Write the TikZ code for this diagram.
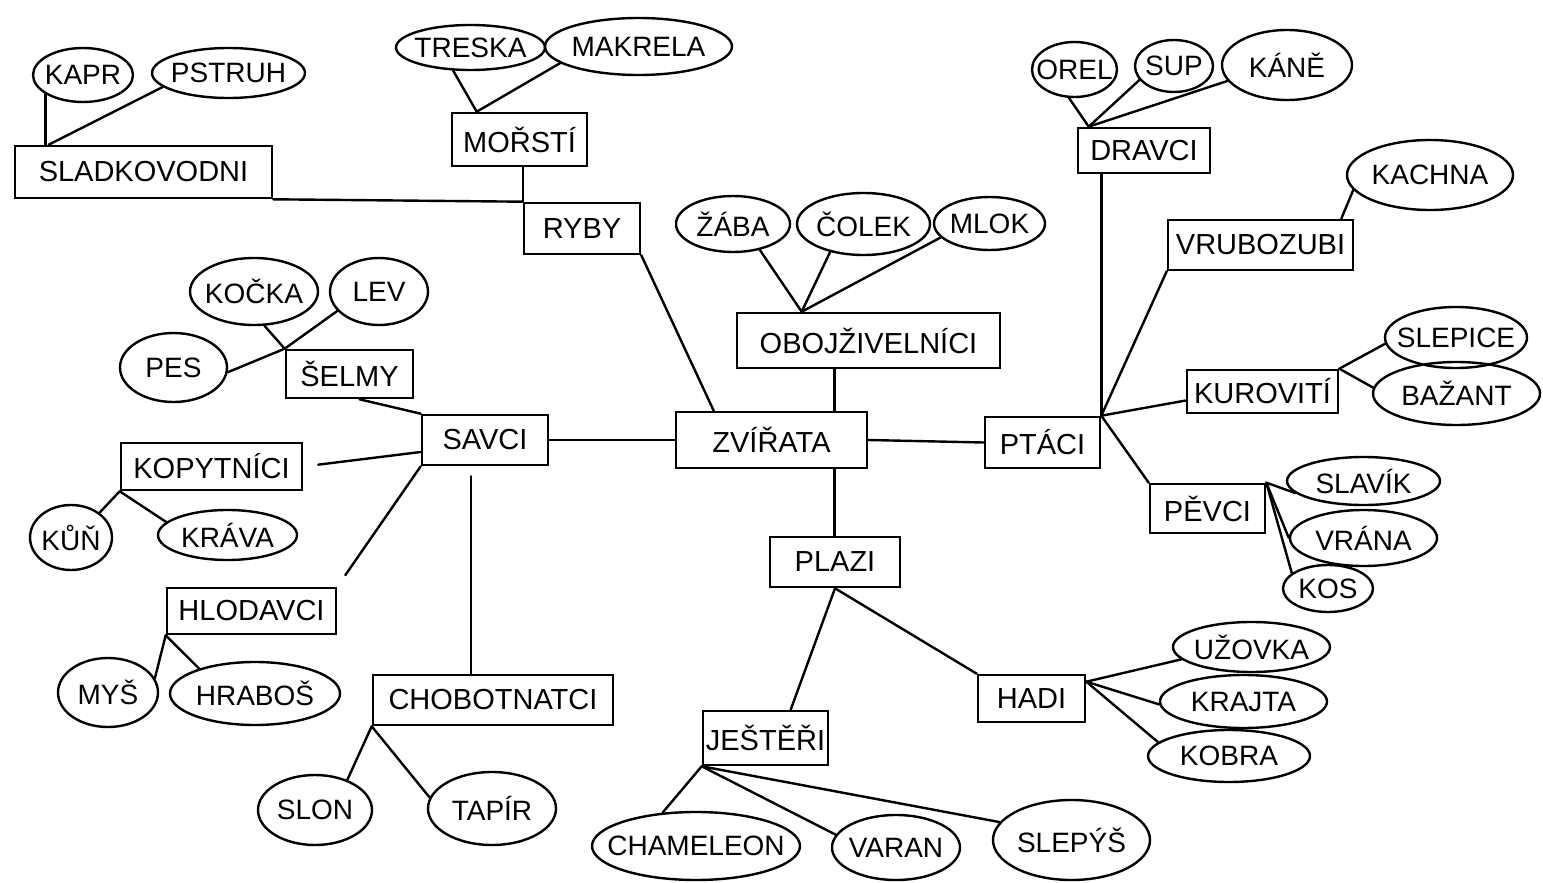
\documentclass[tikz,border=0pt]{standalone}
\usepackage{fontspec}
\setmainfont{Liberation Sans}
\usetikzlibrary{shapes.geometric}
\newcommand{\ovl}[1]{\makebox[0pt]{#1}}
\tikzset{
 box/.style={draw, rectangle, line width=2.6pt, inner sep=0pt, font=\fontsize{29}{32}\selectfont},
 oval/.style={draw, ellipse, line width=2.4pt, inner sep=0pt, font=\fontsize{28}{32}\selectfont},
 link/.style={line width=2.4pt, line cap=round},
}
\begin{document}
\begin{tikzpicture}[x=1pt,y=-1pt]
\fill[white] (0,0) rectangle (1543,883);
\useasboundingbox (0,0) rectangle (1543,883);

% boxes
\node[box, minimum width=257pt, minimum height=52pt] (sladk) at (143.5,172) {SLADKOVODNI};
\node[box, minimum width=135pt, minimum height=53pt] (morsti) at (519.5,139.5) {MOŘSTÍ};
\node[box, minimum width=116pt, minimum height=51pt] (ryby) at (582,228.5) {RYBY};
\node[box, minimum width=263pt, minimum height=55pt] (oboj) at (868.5,340.5) {OBOJŽIVELNÍCI};
\node[box, minimum width=191pt, minimum height=56pt] (zv) at (771.5,440) {ZVÍŘATA};
\node[box, minimum width=115pt, minimum height=51pt] (ptaci) at (1042.5,442.5) {PTÁCI};
\node[box, minimum width=132pt, minimum height=45pt] (dravci) at (1144,150.5) {DRAVCI};
\node[box, minimum width=185pt, minimum height=50pt] (vrub) at (1260.5,245) {VRUBOZUBI};
\node[box, minimum width=151pt, minimum height=43pt] (kurov) at (1262.5,391.5) {KUROVITÍ};
\node[box, minimum width=115pt, minimum height=49pt] (pevci) at (1207.5,508.5) {PĚVCI};
\node[box, minimum width=130pt, minimum height=50pt] (plazi) at (835,562) {PLAZI};
\node[box, minimum width=107pt, minimum height=47pt] (hadi) at (1031.5,698.5) {HADI};
\node[box, minimum width=125pt, minimum height=54pt] (jest) at (765.5,738) {JEŠTĚŘI};
\node[box, minimum width=126pt, minimum height=50pt] (savci) at (485,440) {SAVCI};
\node[box, minimum width=127pt, minimum height=48pt] (selmy) at (349.5,374) {ŠELMY};
\node[box, minimum width=181pt, minimum height=47pt] (kopyt) at (211.5,466.5) {KOPYTNÍCI};
\node[box, minimum width=169pt, minimum height=46pt] (hlod) at (251.5,611) {HLODAVCI};
\node[box, minimum width=240pt, minimum height=50pt] (chobot) at (493,700) {CHOBOTNATCI};

% ovals
\node[oval, minimum width=100pt, minimum height=54pt] (kapr) at (83,75) {\ovl{KAPR}};
\node[oval, minimum width=153pt, minimum height=50pt] (pstruh) at (228.5,73) {\ovl{PSTRUH}};
\node[oval, minimum width=149pt, minimum height=45pt] (treska) at (470.5,47.5) {\ovl{TRESKA}};
\node[oval, minimum width=187pt, minimum height=57pt] (makrela) at (638.5,46.5) {\ovl{MAKRELA}};
\node[oval, minimum width=114pt, minimum height=56pt] (zaba) at (733,224) {\ovl{ŽÁBA}};
\node[oval, minimum width=133pt, minimum height=62pt] (colek) at (863.5,224) {\ovl{ČOLEK}};
\node[oval, minimum width=111pt, minimum height=53pt] (mlok) at (989.5,223.5) {\ovl{MLOK}};
\node[oval, minimum width=85pt, minimum height=55pt] (orel) at (1074.5,69.5) {\ovl{OREL}};
\node[oval, minimum width=78pt, minimum height=52pt] (sup) at (1174,66) {\ovl{SUP}};
\node[oval, minimum width=130pt, minimum height=70pt] (kane) at (1287,65) {\ovl{KÁNĚ}};
\node[oval, minimum width=166pt, minimum height=70pt] (kachna) at (1430,175) {\ovl{KACHNA}};
\node[oval, minimum width=142pt, minimum height=61pt] (slepice) at (1456,337.5) {\ovl{SLEPICE}};
\node[oval, minimum width=167pt, minimum height=63pt] (bazant) at (1456.5,393.5) {\ovl{BAŽANT}};
\node[oval, minimum width=153pt, minimum height=48pt] (slavik) at (1363.5,481) {\ovl{SLAVÍK}};
\node[oval, minimum width=147pt, minimum height=56pt] (vrana) at (1363.5,538) {\ovl{VRÁNA}};
\node[oval, minimum width=90pt, minimum height=47pt] (kos) at (1328,588.5) {\ovl{KOS}};
\node[oval, minimum width=128pt, minimum height=67pt] (kocka) at (254,291.5) {\ovl{KOČKA}};
\node[oval, minimum width=98pt, minimum height=67pt] (lev) at (379,291.5) {\ovl{LEV}};
\node[oval, minimum width=107pt, minimum height=69pt] (pes) at (173.5,367.5) {\ovl{PES}};
\node[oval, minimum width=82pt, minimum height=65pt] (kun) at (71,537.5) {\ovl{KŮŇ}};
\node[oval, minimum width=139pt, minimum height=50pt] (krava) at (227.5,535) {\ovl{KRÁVA}};
\node[oval, minimum width=100pt, minimum height=69pt] (mys) at (108,692.5) {\ovl{MYŠ}};
\node[oval, minimum width=170pt, minimum height=63pt] (hrabos) at (255,693.5) {\ovl{HRABOŠ}};
\node[oval, minimum width=114pt, minimum height=70pt] (slon) at (315,810) {\ovl{SLON}};
\node[oval, minimum width=128pt, minimum height=73pt] (tapir) at (492,808.5) {\ovl{TAPÍR}};
\node[oval, minimum width=208pt, minimum height=68pt] (cham) at (696,846) {\ovl{CHAMELEON}};
\node[oval, minimum width=128pt, minimum height=65pt] (varan) at (896,847.5) {\ovl{VARAN}};
\node[oval, minimum width=157pt, minimum height=80pt] (slepys) at (1071.5,840) {\ovl{SLEPÝŠ}};
\node[oval, minimum width=157pt, minimum height=50pt] (uzovka) at (1251.5,647) {\ovl{UŽOVKA}};
\node[oval, minimum width=167pt, minimum height=53pt] (krajta) at (1243.5,701.5) {\ovl{KRAJTA}};
\node[oval, minimum width=162pt, minimum height=52pt] (kobra) at (1229,756) {\ovl{KOBRA}};

% connectors
\draw[link] (kapr.207) -- (kapr.207 |- sladk.north);
\draw[link] (pstruh.192) -- ([xshift=35pt]sladk.north west);
\draw[link] (sladk.south east) -- (ryby.north west);
\draw[link] (morsti.south -| ryby.north west) -- (ryby.north west);
\draw[link] (treska.233) -- ([xshift=26pt]morsti.north west);
\draw[link] (makrela.192) -- ([xshift=26pt]morsti.north west);
\draw[link] (ryby.south east) -- ([xshift=39pt]zv.north west);
\draw[link] (zaba.316) -- ([xshift=66pt]oboj.north west);
\draw[link] (colek.220) -- ([xshift=66pt]oboj.north west);
\draw[link] (mlok.196) -- ([xshift=66pt]oboj.north west);
\draw[link] ([xshift=-34pt]zv.north east) -- ([xshift=-34pt]zv.north east |- oboj.south);
\draw[link] ([xshift=-34pt]zv.south east) -- ([xshift=-34pt]zv.south east |- plazi.north);
\draw[link] (zv.east) -- (ptaci.west);
\draw[link] (savci.east) -- (zv.west);
\draw[link] (ptaci.north east) -- (ptaci.north east |- dravci.south);
\draw[link] (orel.259) -- ([xshift=12pt]dravci.north west);
\draw[link] (sup.202) -- ([xshift=12pt]dravci.north west);
\draw[link] (kane.195) -- ([xshift=12pt]dravci.north west);
\draw[link] (ptaci.north east) -- (vrub.south west);
\draw[link] ([xshift=-13pt]vrub.north east) -- (kachna.191);
\draw[link] (ptaci.north east) -- ([yshift=-9pt]kurov.west);
\draw[link] (kurov.north east) -- (slepice.185);
\draw[link] (kurov.north east) -- (bazant.176);
\draw[link] (ptaci.north east) -- (pevci.north west);
\draw[link] (pevci.north east) -- (slavik.190);
\draw[link] (pevci.north east) -- (vrana.180);
\draw[link] (pevci.north east) -- (kos.157);
\draw[link] (plazi.south) -- ([xshift=89pt]jest.north west);
\draw[link] (plazi.south) -- (hadi.north west);
\draw[link] ([yshift=-8pt]hadi.north east) -- (uzovka.190);
\draw[link] ([yshift=-8pt]hadi.north east) -- (krajta.182);
\draw[link] ([yshift=-8pt]hadi.north east) -- (kobra.169);
\draw[link] (jest.south west) -- (cham.135);
\draw[link] (jest.south west) -- (varan.168);
\draw[link] (jest.south west) -- (slepys.166);
\draw[link] ([xshift=10pt]selmy.south) -- (savci.north west);
\draw[link] (selmy.north west) -- (kocka.287);
\draw[link] (selmy.north west) -- (lev.205);
\draw[link] (selmy.north west) -- (pes.355);
\draw[link, shorten >=15pt] ([yshift=-12pt]savci.west) -- (kopyt.east);
\draw[link] (kopyt.south west) -- (kun.41);
\draw[link] (kopyt.south west) -- (krava.168);
\draw[link, shorten >=14pt] (savci.south west) -- (hlod.north east);
\draw[link] (hlod.south west) -- (mys.17);
\draw[link] (hlod.south west) -- (hrabos.156);
\draw[link, shorten <=10pt] ([xshift=50pt]savci.south west) -- ([xshift=50pt]savci.south west |- chobot.north);
\draw[link] (chobot.south west) -- (slon.43);
\draw[link] (chobot.south west) -- (tapir.170);
\end{tikzpicture}
\end{document}
